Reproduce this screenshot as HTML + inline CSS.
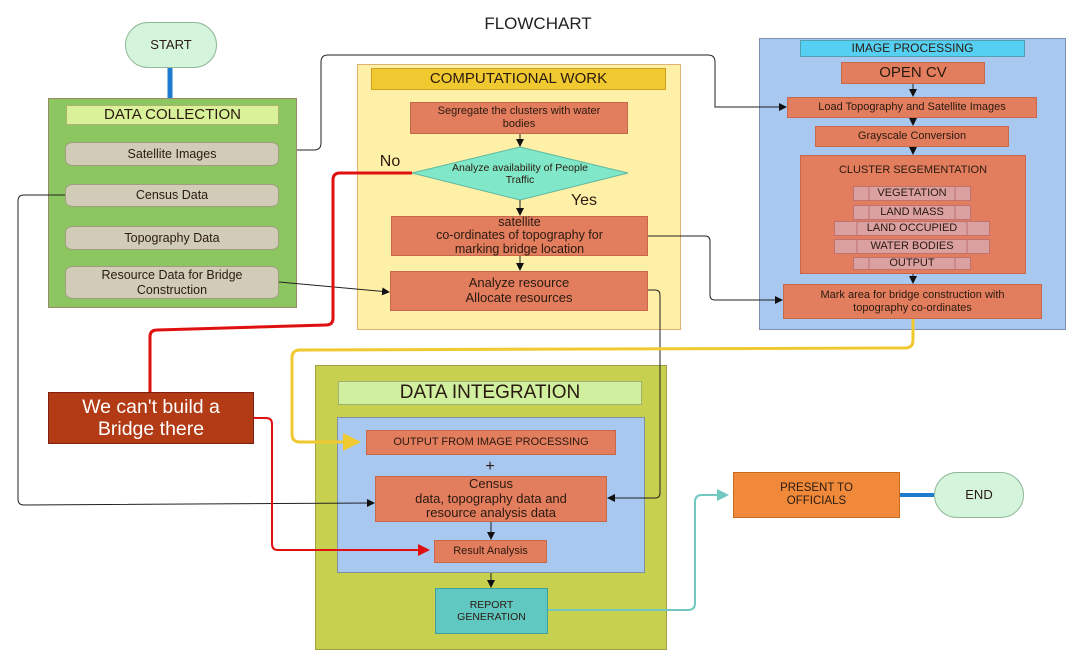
<!DOCTYPE html><html><head><style>
body{margin:0;width:1082px;height:670px;background:#fff;position:relative;overflow:hidden;font-family:"Liberation Sans","DejaVu Sans",sans-serif}
.b{position:absolute;box-sizing:border-box;display:flex;align-items:center;justify-content:center;text-align:center;color:#2a1a10;line-height:1.15}
.o{background:#e27d5e;border:1px solid #c8684a}
.cy{background:#d1ccb8;border:1px solid #a29d80;border-radius:8px/6px;font-size:12.5px}
.it{background:#dba0a0;border:1px solid #c07070;font-size:11px;height:15px}
svg{position:absolute;left:0;top:0}
</style></head><body>
<div class="b" style="left:0;top:14px;width:1076px;font-size:17px;color:#222">FLOWCHART</div>
<div class="b" style="left:125px;top:22px;width:92px;height:46px;border-radius:23px;background:#d4f5dc;border:1.5px solid #90b898;font-size:13px">START</div>
<div class="b" style="left:48px;top:98px;width:249px;height:210px;background:#8bc660;border:1px solid #9a8a6a"></div>
<div class="b" style="left:66px;top:105px;width:213px;height:20px;background:#d9f29a;border:1px solid #b0b070;font-size:15px">DATA COLLECTION</div>
<div class="b cy" style="left:65px;top:142px;width:214px;height:24px">Satellite Images</div>
<div class="b cy" style="left:65px;top:184px;width:214px;height:23px">Census Data</div>
<div class="b cy" style="left:65px;top:226px;width:214px;height:24px">Topography Data</div>
<div class="b cy" style="left:65px;top:266px;width:214px;height:33px">Resource Data for Bridge<br>Construction</div>

<div class="b" style="left:357px;top:64px;width:324px;height:266px;background:#fff0a8;border:1px solid #e0b070"></div>
<div class="b" style="left:371px;top:68px;width:295px;height:22px;background:#f0c830;border:1px solid #d0a020;font-size:15px">COMPUTATIONAL WORK</div>
<div class="b o" style="left:410px;top:102px;width:218px;height:32px;font-size:11px">Segregate the clusters with water<br>bodies</div>
<svg width="1082" height="670"><polygon points="412,173 520,147 628,173 520,200" fill="#80e8c8" stroke="#60b8a0"/></svg>
<div class="b" style="left:430px;top:160px;width:180px;height:28px;font-size:10.5px">Analyze availability of People<br>Traffic</div>
<div class="b o" style="left:391px;top:216px;width:257px;height:40px;font-size:12.5px;line-height:1.05">satellite<br>co-ordinates of topography for<br>marking bridge location</div>
<div class="b o" style="left:390px;top:271px;width:258px;height:40px;font-size:13px">Analyze resource<br>Allocate resources</div>
<div class="b" style="left:370px;top:152px;width:40px;height:20px;font-size:16px">No</div>
<div class="b" style="left:566px;top:191px;width:36px;height:20px;font-size:16px">Yes</div>

<div class="b" style="left:759px;top:38px;width:307px;height:292px;background:#a8c8f0;border:1px solid #8090b0"></div>
<div class="b" style="left:800px;top:40px;width:225px;height:17px;background:#55d0f2;border:1px solid #50a0b0;font-size:12px">IMAGE PROCESSING</div>
<div class="b o" style="left:841px;top:62px;width:144px;height:22px;font-size:15px">OPEN CV</div>
<div class="b o" style="left:787px;top:97px;width:250px;height:21px;font-size:11px">Load Topography and Satellite Images</div>
<div class="b o" style="left:815px;top:126px;width:194px;height:21px;font-size:11px">Grayscale Conversion</div>
<div class="b o" style="left:800px;top:155px;width:226px;height:119px"></div>
<div class="b" style="left:800px;top:162px;width:226px;height:16px;font-size:11px">CLUSTER SEGEMENTATION</div>
<div class="b it" style="left:853px;top:186px;width:118px">VEGETATION</div>
<div class="b it" style="left:853px;top:205px;width:118px">LAND MASS</div>
<div class="b it" style="left:834px;top:221px;width:156px">LAND OCCUPIED</div>
<div class="b it" style="left:834px;top:239px;width:156px">WATER BODIES</div>
<div class="b it" style="left:853px;top:257px;width:118px;height:13px">OUTPUT</div>
<svg width="1082" height="670"><g stroke="#c07070" fill="none"><line x1="869" y1="186" x2="869" y2="201"/><line x1="955" y1="186" x2="955" y2="201"/><line x1="869" y1="205" x2="869" y2="220"/><line x1="955" y1="205" x2="955" y2="220"/><line x1="857" y1="221" x2="857" y2="236"/><line x1="967" y1="221" x2="967" y2="236"/><line x1="857" y1="239" x2="857" y2="254"/><line x1="967" y1="239" x2="967" y2="254"/><line x1="869" y1="257" x2="869" y2="270"/><line x1="955" y1="257" x2="955" y2="270"/></g></svg>
<div class="b o" style="left:783px;top:284px;width:259px;height:35px;font-size:11px">Mark area for bridge construction with<br>topography co-ordinates</div>

<div class="b" style="left:315px;top:365px;width:352px;height:285px;background:#c8d050;border:1px solid #a0a040"></div>
<div class="b" style="left:338px;top:381px;width:304px;height:24px;background:#d0f0a0;border:1px solid #a0b070;font-size:19px">DATA INTEGRATION</div>
<div class="b" style="left:337px;top:417px;width:308px;height:156px;background:#a8c8f0;border:1px solid #8090a0"></div>
<div class="b o" style="left:366px;top:430px;width:250px;height:25px;font-size:11px">OUTPUT FROM IMAGE PROCESSING</div>
<div class="b" style="left:480px;top:457px;width:20px;height:20px;font-size:16px">+</div>
<div class="b o" style="left:375px;top:476px;width:232px;height:46px;font-size:13px">Census<br>data, topography data and<br>resource analysis data</div>
<div class="b o" style="left:434px;top:540px;width:113px;height:23px;font-size:11px">Result Analysis</div>
<div class="b" style="left:435px;top:588px;width:113px;height:46px;background:#60c8c0;border:1px solid #40a0a0;font-size:10.5px">REPORT<br>GENERATION</div>

<div class="b" style="left:733px;top:472px;width:167px;height:46px;background:#f08a3a;border:1px solid #c86a20;font-size:11.5px">PRESENT TO<br>OFFICIALS</div>
<div class="b" style="left:934px;top:472px;width:90px;height:46px;border-radius:23px;background:#d4f5dc;border:1.5px solid #90b898;font-size:13px">END</div>
<div class="b" style="left:48px;top:392px;width:206px;height:52px;background:#b23a14;border:1px solid #802010;color:#fff;font-size:19.5px">We can't build a<br>Bridge there</div>

<svg width="1082" height="670"><defs>
<marker id="a" markerWidth="8" markerHeight="8" refX="7" refY="4" orient="auto"><path d="M0,0L8,4L0,8z" fill="#111"/></marker>
<marker id="r" markerWidth="6" markerHeight="6" refX="5" refY="3" orient="auto"><path d="M0,0L6,3L0,6z" fill="#e01010"/></marker>
<marker id="y" markerWidth="6" markerHeight="6" refX="5" refY="3" orient="auto"><path d="M0,0L6,3L0,6z" fill="#f0c830"/></marker>
<marker id="t" markerWidth="6" markerHeight="6" refX="5" refY="3" orient="auto"><path d="M0,0L6,3L0,6z" fill="#70c8c0"/></marker></defs>
<g fill="none" stroke="#222" stroke-width="1">
<line x1="170" y1="68" x2="170" y2="98" stroke="#1e7bd0" stroke-width="5"/>
<line x1="900" y1="495" x2="934" y2="495" stroke="#1e7bd0" stroke-width="4"/>
<path d="M297,150H314Q321,150 321,143V62Q321,55 328,55H708Q715,55 715,62V107H786" marker-end="url(#a)"/>
<path d="M65,195H24Q18,195 18,201V499Q18,505 24,505L374,503" marker-end="url(#a)"/>
<path d="M279,282L389,292" marker-end="url(#a)"/>
<path d="M648,236H705Q710,236 710,241V295Q710,300 715,300H782" marker-end="url(#a)"/>
<path d="M648,290H655Q660,290 660,295V493Q660,498 655,498H608" marker-end="url(#a)"/>
<path d="M520,134V146" marker-end="url(#a)"/><path d="M520,200V215" marker-end="url(#a)"/>
<path d="M520,256V270" marker-end="url(#a)"/>
<path d="M913,84V96" marker-end="url(#a)"/><path d="M913,118V125" marker-end="url(#a)"/>
<path d="M913,147V154" marker-end="url(#a)"/><path d="M913,274V283" marker-end="url(#a)"/>
<path d="M491,522V539" marker-end="url(#a)"/><path d="M491,573V587" marker-end="url(#a)"/>
</g>
<g fill="none">
<path d="M412,173H340Q333,173 333,180V318Q333,325 326,325L157,330Q150,330 150,337V392" stroke="#e01010" stroke-width="3"/>
<path d="M254,418H266Q272,418 272,424V544Q272,550 278,550H428" stroke="#e01010" stroke-width="2" marker-end="url(#r)"/>
<path d="M913,319V340Q913,348 905,348L300,350Q292,350 292,358V434Q292,442 300,442H358" stroke="#f0c830" stroke-width="3" marker-end="url(#y)"/>
<path d="M548,610H688Q695,610 695,603V502Q695,495 702,495H727" stroke="#70c8c0" stroke-width="2" marker-end="url(#t)"/>
</g></svg>
</body></html>
